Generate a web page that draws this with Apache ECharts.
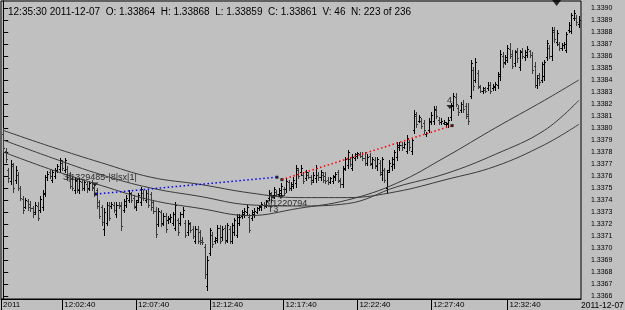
<!DOCTYPE html>
<html>
<head>
<meta charset="utf-8">
<title>EURUSD 10s bars</title>
<script src="https://cdn.jsdelivr.net/npm/echarts@6/dist/echarts.min.js"></script>
<style>
  html, body { margin: 0; padding: 0; background: #c0c0c0; }
  #chart { width: 625px; height: 310px; }
</style>
</head>
<body>
<div id="chart"></div>
<script>
  // prices in points (0.00001) above 1.33000, one bar every 10 seconds
  const barOpen = [
    795,781,765,756,768,757,761,750,741,734,739,737,733,730,735,732,734,745,759,763,
    757,760,765,766,771,765,766,761,758,748,756,748,755,750,753,750,755,751,748,738,
    734,716,721,736,735,736,728,736,736,732,736,740,745,742,734,740,738,746,740,746,
    745,738,731,720,730,721,727,723,724,721,717,723,721,728,721,713,720,716,706,716,
    713,707,701,668,696,711,706,707,717,709,717,707,716,706,713,711,721,727,728,730,
    726,725,728,730,733,734,736,735,742,745,744,747,745,746,749,749,755,750,752,754,
    765,763,761,758,761,759,757,758,761,759,761,760,757,755,756,759,763,756,753,767,
    769,774,767,775,777,778,777,775,771,777,770,773,768,771,762,765,750,765,768,770,
    776,784,786,784,781,788,781,798,810,806,806,804,795,798,805,806,815,807,805,804,
    803,803,809,818,826,817,815,820,818,812,827,848,840,846,834,831,832,833,836,833,
    834,836,843,860,855,857,866,862,854,864,851,864,859,861,864,861,852,836,844,840,
    843,859,867,860,880,872,870,867,869,865,882,881,892,892,887
  ]
  const barHigh = [
    800,783,767,773,771,768,763,752,743,742,741,739,735,738,738,743,748,761,764,765,
    765,767,770,775,773,775,768,763,760,759,758,758,757,757,755,756,757,753,750,740,
    736,733,738,738,738,738,738,738,738,741,744,748,747,744,740,746,751,748,748,748,
    747,740,734,733,732,729,729,727,728,730,738,725,730,734,723,723,722,718,718,718,
    715,709,703,693,717,713,709,719,719,718,719,721,718,721,725,728,728,732,733,736,
    728,732,733,734,736,738,738,740,748,747,751,748,750,754,751,758,757,755,759,769,
    767,769,763,765,763,761,763,769,763,765,763,763,759,759,761,763,765,758,768,776,
    782,776,778,779,780,780,780,780,778,779,776,776,776,773,776,767,765,773,776,782,
    788,788,788,788,794,790,792,815,813,811,808,807,797,808,813,818,818,809,808,807,
    805,809,821,829,829,819,822,823,821,821,857,851,858,848,836,834,834,838,838,837,
    838,847,865,863,861,869,871,865,865,867,865,867,865,868,865,863,855,844,846,855,
    857,873,869,884,884,882,872,871,872,880,888,896,898,894,893
  ]
  const barLow = [
    780,772,755,753,747,754,748,740,729,733,732,731,726,728,723,730,732,743,757,758,
    755,758,763,763,765,763,757,750,748,746,747,746,748,748,747,748,748,743,733,725,
    719,711,719,723,733,730,726,733,715,730,734,738,738,733,732,738,736,740,738,734,
    732,729,709,718,718,719,713,721,722,719,715,711,719,726,709,711,713,708,704,704,
    703,703,675,665,694,701,704,705,704,707,704,705,704,704,711,709,719,725,726,728,
    713,723,726,729,732,732,733,734,740,738,742,744,743,744,744,747,748,748,750,751,
    758,761,754,757,758,753,755,755,757,757,755,754,753,754,754,757,755,751,751,765,
    767,768,765,773,775,776,773,769,769,769,767,767,765,761,757,755,746,763,765,767,
    773,782,782,783,779,782,778,796,801,805,800,796,793,797,803,803,808,803,803,803,
    802,801,807,815,818,811,813,813,808,803,825,832,838,833,830,829,830,832,829,832,
    832,833,840,851,853,855,858,850,852,855,848,858,857,859,859,846,834,833,836,838,
    840,857,858,857,872,869,865,865,867,863,880,879,890,886,884
  ]
  const barClose = [
    783,774,758,770,750,765,750,742,732,740,734,733,728,736,725,741,746,759,762,760,
    763,765,768,773,767,773,759,752,750,757,749,756,750,755,749,754,750,745,735,727,
    722,730,736,725,737,732,736,735,718,739,742,746,740,735,738,744,749,742,746,736,
    734,731,712,731,720,727,716,725,726,728,736,713,728,732,711,721,715,710,716,706,
    705,705,678,690,715,703,708,717,706,716,706,719,706,719,723,726,726,730,731,734,
    715,730,731,733,735,737,735,739,746,740,749,745,748,752,746,756,750,753,757,767,
    760,767,756,763,759,755,761,767,759,763,757,756,755,758,760,762,757,753,766,774,
    780,770,776,778,779,777,775,771,776,771,774,769,774,763,774,757,763,771,774,780,
    786,786,784,787,792,784,790,812,803,809,802,798,796,806,811,816,810,805,806,805,
    804,807,819,827,820,813,820,816,810,806,854,835,855,835,831,833,831,836,831,835,
    837,845,862,854,859,867,860,852,863,858,863,860,863,866,861,848,836,842,838,853,
    855,871,860,882,874,879,867,869,870,878,886,894,896,888,890
  ]

  // moving averages read at sparse bar positions
  const maIdx = [0, 20, 40, 60, 80, 100, 120, 140, 160, 180, 200, 220, 234]
  const maSlow = [798, 784, 771, 759, 753, 746, 742, 742, 747, 757, 768, 786, 803]
  const maMid = [790, 775, 761, 750, 743, 736, 735, 737, 751, 762, 778, 798, 823]
  const maFast = [780, 765, 752, 740, 733, 727, 733, 740, 754, 776, 800, 823, 840]

  // drawn trend segments [barIndex, price]
  const blueLine = [[37.7, 745], [111.3, 759]]
  const redLine = [[113.3, 757], [182.5, 802]]
  const arrowMarks = [[37.3, 753], [109.7, 742.5], [112.9, 742.5], [181.6, 817.5]]
  const noteTexts = ['3|1329485-|8|sx|1|', '3|1220794', 'T3', '4.']
  const notePos = [[24.3, 759], [106.4, 737], [107.5, 732], [180.4, 823]]
  const cursorBar = 225

  const yTickValues = [660, 670, 680, 690, 700, 710, 720, 730, 740, 750, 760, 770, 780,
    790, 800, 810, 820, 830, 840, 850, 860, 870, 880, 890, 900]
  const xTickIdx = [-0.9, 24, 54, 84, 114, 144, 174, 205]
  const xTickLabels = ['2011', '12:02:40', '12:07:40', '12:12:40', '12:17:40', '12:22:40', '12:27:40', '12:32:40']
  const headerText = '12:35:30 2011-12-07  O: 1.33864  H: 1.33868  L: 1.33859  C: 1.33861  V: 46  N: 223 of 236'

  const ohlc = barOpen.map((o, i) => [i, o, barHigh[i], barLow[i], barClose[i]])
  const maData = (vals) => maIdx.map((x, i) => [x, vals[i]])

  const renderOhlc = (params, api) => {
    const i = api.value(0)
    const o = api.coord([i, api.value(1)])
    const h = api.coord([i, api.value(2)])
    const l = api.coord([i, api.value(3)])
    const c = api.coord([i, api.value(4)])
    const x = Math.round(h[0])
    const top = Math.round(h[1])
    const bottom = Math.round(l[1])
    const fill = api.value(4) >= api.value(1) ? '#000' : '#3c3c3c'
    return {
      type: 'group',
      children: [
        { type: 'rect', shape: { x: x, y: top, width: 1, height: Math.max(1, bottom - top + 1) }, style: { fill } },
        { type: 'rect', shape: { x: x - 1, y: Math.round(o[1]), width: 1, height: 1 }, style: { fill } },
        { type: 'rect', shape: { x: x + 1, y: Math.round(c[1]), width: 1, height: 1 }, style: { fill } }
      ]
    }
  }

  const chart = echarts.init(document.getElementById('chart'))
  const option = {
    animation: false,
    backgroundColor: '#c0c0c0',
    grid: {
      left: 1, right: 44, top: 1, bottom: 11,
      show: true, borderColor: '#000', borderWidth: 1,
      outerBoundsMode: 'none'
    },
    xAxis: {
      type: 'value',
      min: -0.9,
      max: 234.9,
      axisLine: { show: true, lineStyle: { color: '#000', width: 1 } },
      axisTick: { show: true, length: 11, customValues: xTickIdx, lineStyle: { color: '#000' } },
      axisLabel: {
        customValues: xTickIdx,
        showMinLabel: true,
        hideOverlap: false,
        align: 'left',
        margin: 2,
        padding: [0, 0, 0, 2],
        color: '#000',
        fontSize: 8,
        fontFamily: 'Liberation Sans',
        formatter: (v) => {
          const k = xTickIdx.indexOf(v)
          return k >= 0 ? xTickLabels[k] : ''
        }
      },
      splitLine: { show: false }
    },
    yAxis: {
      type: 'value',
      position: 'right',
      min: 657.5,
      max: 905.83,
      axisLine: { show: true, lineStyle: { color: '#000', width: 1 } },
      axisTick: { show: true, length: 5, customValues: yTickValues, lineStyle: { color: '#000' } },
      axisLabel: {
        customValues: yTickValues,
        margin: 10,
        color: '#000',
        fontSize: 7,
        fontFamily: 'Liberation Sans',
        formatter: (v) => (1.33 + v / 1e5).toFixed(4)
      },
      splitLine: { show: false }
    },
    graphic: [
      {
        type: 'text', left: 8, top: 7, silent: true,
        style: { text: headerText, fill: '#000', font: '10px "Liberation Sans"' }
      },
      {
        type: 'text', left: 581, top: 301, silent: true,
        style: { text: '2011-12-07', fill: '#000', font: '8.5px "Liberation Sans"' }
      }
    ],
    series: [
      {
        type: 'line', data: maData(maSlow), smooth: 0.4, showSymbol: false,
        lineStyle: { color: '#3a3a3a', width: 1 }
      },
      {
        type: 'line', data: maData(maMid), smooth: 0.4, showSymbol: false,
        lineStyle: { color: '#3a3a3a', width: 1 }
      },
      {
        type: 'line', data: maData(maFast), smooth: 0.4, showSymbol: false,
        lineStyle: { color: '#3a3a3a', width: 1 }
      },
      {
        type: 'custom',
        renderItem: renderOhlc,
        encode: { x: 0, y: [1, 2, 3, 4] },
        data: ohlc,
        clip: true
      },
      {
        type: 'line', data: blueLine, showSymbol: false,
        lineStyle: { color: '#0000ff', width: 1.5, type: [1.5, 2.5] }
      },
      {
        type: 'line', data: redLine, showSymbol: false,
        lineStyle: { color: '#ff0000', width: 1.5, type: [1.5, 2.5] }
      },
      {
        type: 'scatter',
        data: [blueLine[0], blueLine[1], redLine[0], redLine[1]],
        symbol: 'rect', symbolSize: 3,
        itemStyle: { color: '#000' }
      },
      {
        type: 'scatter',
        data: arrowMarks,
        symbol: 'triangle', symbolRotate: 180, symbolSize: [7, 4],
        itemStyle: { color: '#000' }
      },
      {
        type: 'scatter',
        data: notePos.map((p, k) => ({
          value: p,
          label: { formatter: noteTexts[k] }
        })),
        symbolSize: 0,
        label: {
          show: true, position: 'right', distance: 0,
          color: '#000', fontSize: 9, fontFamily: 'Liberation Sans'
        }
      },
      {
        type: 'scatter',
        data: [[cursorBar, 905.83]],
        symbol: 'triangle', symbolRotate: 180, symbolSize: [9, 6],
        symbolOffset: [0, 2],
        clip: false,
        itemStyle: { color: '#000' }
      }
    ]
  }
  chart.setOption(option)
</script>
</body>
</html>
